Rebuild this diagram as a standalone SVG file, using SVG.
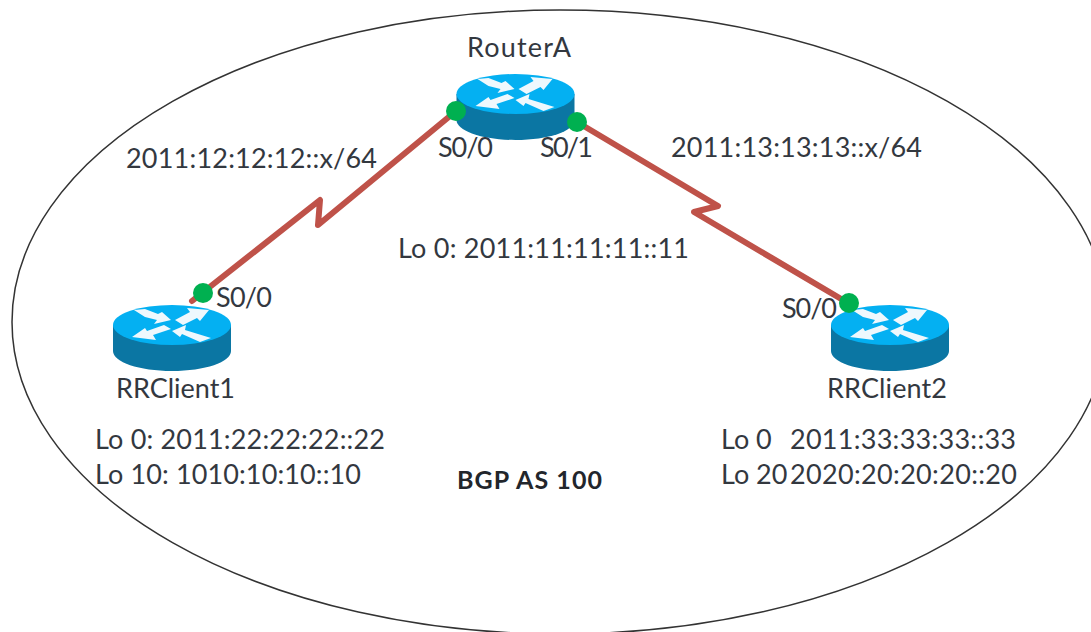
<svg xmlns="http://www.w3.org/2000/svg" width="1091" height="632" viewBox="0 0 1091 632">
<style>
text{font-family:Lato,"Open Sans","Liberation Sans",sans-serif;font-size:27px;fill:#33383f}
.b{font-weight:700;font-size:25px;fill:#22262c}
.l{fill:none;stroke:#bf5249;stroke-width:6;stroke-linejoin:round;stroke-linecap:round}
.d{fill:#00b050}
</style>
<defs>
<g id="router">
<path d="M-59 0V26C-59 37-33 46 0 46S59 37 59 26V0Z" fill="#0b76a3"/>
<ellipse cx="0" cy="0" rx="59" ry="20" fill="#04b0f2"/>
<g fill="#eef8fd">
<path d="M-38-15-27-16-14-11-10-13-1-5-18-1-15-5-27-8Z"/>
<path d="M37-15 15-17 18-13 3-5 11 0 25-7 28-4Z"/>
<path d="M-40 12-27 3-25 6-8 0-1 4-19 10-16 15Z"/>
<path d="M0 6 14 0 13 5 39 13 28 17 10 9 8 12Z"/>
</g>
</g>
</defs>
<ellipse cx="560" cy="322" rx="548" ry="312" fill="none" stroke="#333" stroke-width="1.5"/>
<g id="connectors">
<path class="l" d="M192 301 320 200 318 225 450 116"/>
<path class="l" d="M577 122 718 206 694 212 848 303"/>
</g>
<g id="RouterA"><use href="#router" x="515.5" y="94"/><circle class="d" cx="456" cy="111" r="10"/><circle class="d" cx="577" cy="122" r="10"/>
<text x="467" y="57" textLength="104">RouterA</text><text x="438" y="157" textLength="55">S0/0</text><text x="540" y="157" textLength="53">S0/1</text><text x="398" y="258" textLength="291">Lo 0: 2011:11:11:11::11</text></g>
<g id="RRClient1"><use href="#router" x="172" y="325"/><circle class="d" cx="203" cy="293" r="10"/>
<text x="216" y="307" textLength="56">S0/0</text><text x="116" y="398" textLength="119">RRClient1</text><text x="95" y="449" textLength="290">Lo 0: 2011:22:22:22::22</text><text x="95" y="484" textLength="266">Lo 10: 1010:10:10::10</text></g>
<g id="RRClient2"><use href="#router" x="890" y="325"/><circle class="d" cx="849" cy="303" r="10"/>
<text x="782" y="318" textLength="55">S0/0</text><text x="827" y="398" textLength="120">RRClient2</text><text x="721" y="449">Lo 0</text><text x="790" y="449" textLength="226">2011:33:33:33::33</text><text x="721" y="484">Lo 20</text><text x="790" y="484" textLength="227">2020:20:20:20::20</text></g>
<text x="126" y="168" textLength="251">2011:12:12:12::x/64</text>
<text x="671" y="157" textLength="251">2011:13:13:13::x/64</text>
<text class="b" x="457" y="489" textLength="145">BGP AS 100</text>
</svg>
